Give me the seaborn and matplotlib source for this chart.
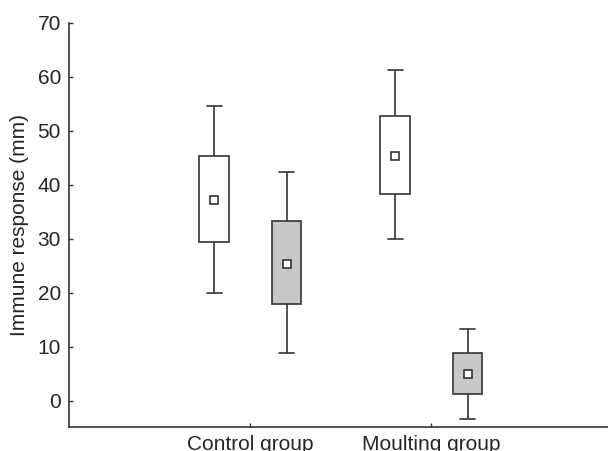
import matplotlib
matplotlib.use("Agg")
import matplotlib.pyplot as plt
import seaborn as sns
import pandas as pd

# ---- data ----
groups = ["Control group", "Moulting group"]
conditions = ["A", "B"]          # white / grey boxes
whisker_low  = {"A": [19.9, 29.9], "B": [8.9, -3.4]}
box_low      = {"A": [29.4, 38.2], "B": [18.0, 1.3]}
center       = {"A": [37.2, 45.4], "B": [25.4, 4.9]}
box_high     = {"A": [45.3, 52.7], "B": [33.3, 8.8]}
whisker_high = {"A": [54.6, 61.2], "B": [42.4, 13.3]}

rows = []
for c in conditions:
    for i, g in enumerate(groups):
        for v in (whisker_low[c][i], box_low[c][i], center[c][i],
                  box_high[c][i], whisker_high[c][i]):
            rows.append({"group": g, "cond": c, "value": v})
df = pd.DataFrame(rows)
means = pd.DataFrame([{"group": g, "cond": c, "value": center[c][i]}
                      for c in conditions for i, g in enumerate(groups)])

sns.set_style("white")
plt.rcParams["font.family"] = ["Liberation Sans", "DejaVu Sans"]

fig = plt.figure(figsize=(6.08, 4.51), dpi=100)
ax = fig.add_axes([69.3 / 608, (451 - 426.7) / 451, 1 - 69.3 / 608, (426.7 - 22.7) / 451])

edge = "#333333"
sns.boxplot(data=df, x="group", y="value", hue="cond", order=groups,
            hue_order=conditions, palette={"A": "white", "B": "#c8c8c8"},
            whis=(0, 100), width=0.8, gap=0.59, linewidth=1.2, linecolor=edge,
            medianprops={"visible": False}, legend=False, ax=ax)
sns.pointplot(data=means, x="group", y="value", hue="cond", order=groups,
              hue_order=conditions, dodge=0.4, linestyle="none", markers="s",
              errorbar=None, palette={"A": "white", "B": "white"},
              legend=False, ax=ax)
for ln in ax.lines:
    if ln.get_marker() == "s":
        ln.set_markerfacecolor("white")
        ln.set_markeredgecolor(edge)
        ln.set_markersize(6)
        ln.set_markeredgewidth(1.2)
        ln.set_zorder(5)

ax.set_xlim(-1, 1.976)
ax.set_ylim(-4.8, 70)
ax.set_yticks(range(0, 71, 10))
ax.set_xlabel("")
ax.set_ylabel("Immune response (mm)", fontsize=15, labelpad=6)
ax.tick_params(axis="both", direction="in", length=3, width=1, color=edge,
               labelsize=15, pad=6, left=True, bottom=True)
for s in ["top", "right"]:
    ax.spines[s].set_visible(False)
for s in ["left", "bottom"]:
    ax.spines[s].set_color(edge)
    ax.spines[s].set_linewidth(1.2)
leg = ax.get_legend()
if leg is not None:
    leg.remove()

fig.savefig("out.png", dpi=100)
